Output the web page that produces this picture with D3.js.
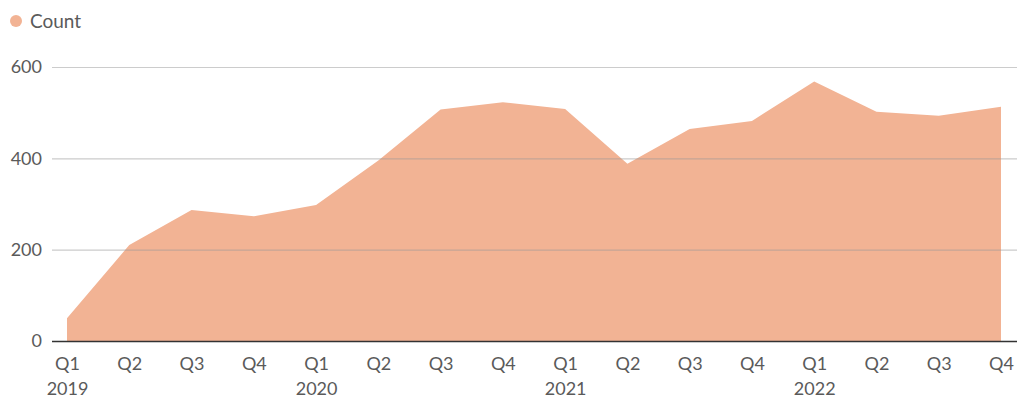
<!DOCTYPE html>
<html>
<head>
<meta charset="utf-8">
<script src="https://cdn.jsdelivr.net/npm/d3@7"></script>
<style>
  html, body { margin: 0; padding: 0; background: #fff; }
  svg { display: block; font-family: "Lato", "Open Sans", sans-serif; }
</style>
</head>
<body>
<svg id="chart" width="1017" height="399"></svg>
<script>
// Quarterly counts, 2019 Q1 through 2022 Q4
const quarters = ["Q1","Q2","Q3","Q4","Q1","Q2","Q3","Q4","Q1","Q2","Q3","Q4","Q1","Q2","Q3","Q4"];
const years = ["2019","","","","2020","","","","2021","","","","2022","","",""];
const counts = [50, 210, 287, 273, 298, 395, 507, 523, 508, 388, 464, 482, 568, 502, 493, 513];
const yTicks = [0, 200, 400, 600];
const seriesName = "Count";

const fillColor = "#f2b394";
const textColor = "#5a5a5a";
const svg = d3.select("#chart");

const x = d3.scaleLinear().domain([0, counts.length - 1]).range([67, 1001]);
const y = d3.scaleLinear().domain([0, 600]).range([341, 67]);

// area
const area = d3.area()
  .x((d, i) => x(i))
  .y0(y(0))
  .y1(d => y(d));
svg.append("path")
  .datum(counts)
  .attr("d", area)
  .attr("fill", fillColor);

// gridlines drawn over the area
const yAxis = d3.axisLeft(y).tickValues(yTicks).tickSize(0).tickPadding(0);
const gy = svg.append("g").attr("transform", "translate(52,0)").call(yAxis);
gy.select(".domain").remove();
gy.selectAll(".tick line")
  .attr("x2", 1017 - 52)
  .attr("stroke", d => d === 0 ? "#333" : "#999")
  .attr("stroke-opacity", d => d === 0 ? 1 : 0.5)
  .attr("stroke-width", d => d === 0 ? 1.5 : 1.2);
gy.selectAll(".tick text")
  .attr("x", -10)
  .attr("fill", textColor)
  .attr("font-size", 18)
  .attr("font-family", "Lato, 'Open Sans', sans-serif");

// x axis: quarter and year labels
const xAxis = d3.axisBottom(x)
  .tickValues(d3.range(counts.length))
  .tickSize(0)
  .tickPadding(0)
  .tickFormat(i => quarters[i]);
const gx = svg.append("g").attr("transform", "translate(0,341)").call(xAxis);
gx.select(".domain").remove();
gx.selectAll(".tick text")
  .attr("y", 16)
  .attr("fill", textColor)
  .attr("font-size", 18)
  .attr("font-family", "Lato, 'Open Sans', sans-serif")
  .each(function(i) {
    if (years[i]) {
      d3.select(this).append("tspan")
        .attr("x", 0)
        .attr("dy", "1.4em")
        .text(years[i]);
    }
  });

// legend
const legend = svg.append("g");
legend.append("circle").attr("cx", 16).attr("cy", 21).attr("r", 6).attr("fill", fillColor);
legend.append("text")
  .attr("x", 30).attr("y", 28)
  .attr("fill", textColor)
  .attr("font-size", 19)
  .text(seriesName);
</script>
</body>
</html>
